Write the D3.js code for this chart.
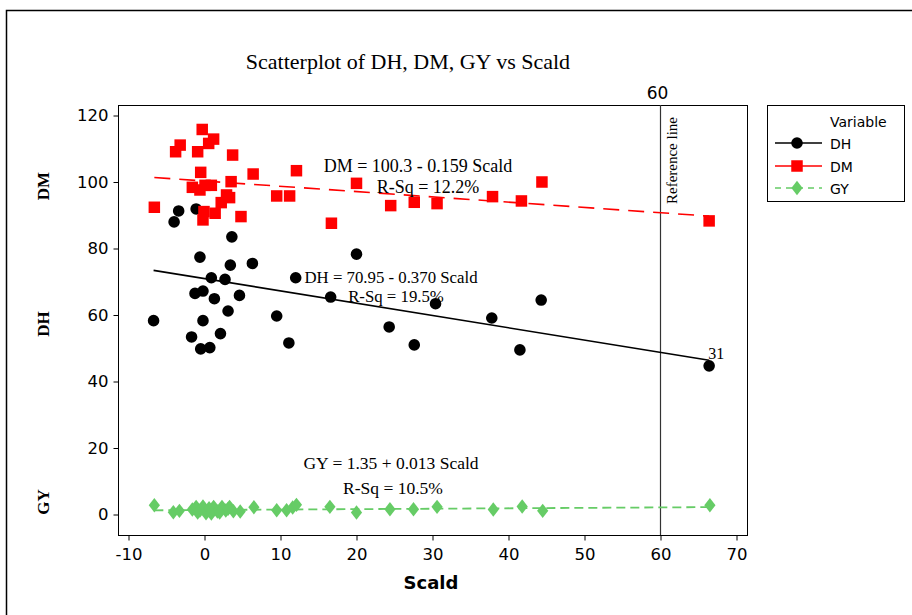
<!DOCTYPE html>
<html><head><meta charset="utf-8">
<script src="https://cdn.jsdelivr.net/npm/d3@7"></script>
<style>
html,body{margin:0;padding:0;background:#fff;}
svg{display:block;}
</style></head>
<body>
<script>
// ---- data ----
const xTicks = [-10, 0, 10, 20, 30, 40, 50, 60, 70];
const yTicks = [0, 20, 40, 60, 80, 100, 120];

const scaldDH = [-6.7,-4.0,-3.4,-1.1,3.6,-0.6,3.4,6.3,0.9,2.7,-1.25,-0.2,1.3,4.6,3.1,-0.2,9.5,-1.7,2.1,-0.5,0.7,11.1,12.0,16.6,20.0,24.3,27.6,30.4,37.8,41.5,44.3,66.4];
const valuesDH = [58.3,88.0,91.3,91.9,83.5,77.4,75.0,75.5,71.2,70.7,66.5,67.2,64.9,65.9,61.2,58.3,59.7,53.4,54.4,49.8,50.2,51.6,71.2,65.4,78.3,56.4,51.0,63.4,59.1,49.5,64.5,44.7];

const scaldDM = [-0.3,1.2,0.55,-3.2,-3.8,-0.9,3.7,-0.5,6.4,-1.6,-0.6,0.07,0.9,3.5,2.9,3.3,2.2,9.5,-6.6,-0.07,1.4,-0.2,4.8,11.2,12.1,16.7,20.0,24.5,27.6,30.6,37.9,41.7,44.4,66.4];
const valuesDM = [115.8,112.9,111.6,111.1,109.1,109.1,108.1,102.9,102.4,98.4,97.6,99.0,99.0,100.1,96.1,95.3,93.8,95.8,92.4,91.1,90.6,88.6,89.6,95.8,103.4,87.6,99.6,92.9,93.9,93.5,95.6,94.3,100.0,88.3];

const scaldGY = [-6.6,-4.1,-3.3,-1.6,-1.1,-0.6,-0.2,0.2,0.6,1.2,1.7,2.3,2.8,3.3,3.8,4.7,6.5,9.5,10.8,11.6,12.1,16.5,20.0,24.4,27.5,30.6,38.0,41.8,44.5,66.5,-0.9,0.9,2.0,3.1];
const valuesGY = [2.8,0.7,1.1,1.5,2.3,1.2,2.4,0.4,1.9,2.3,0.9,2.3,1.2,2.3,1.0,0.9,2.2,1.3,1.3,2.1,2.9,2.3,0.6,1.6,1.6,2.3,1.5,2.4,1.1,2.8,0.6,0.3,0.6,1.7];

const seriesNames = ["DH", "DM", "GY"];
const fitDH = {a: 70.95, b: -0.370, eq: "DH = 70.95 - 0.370 Scald", rsq: "R-Sq = 19.5%"};
const fitDM = {a: 100.3, b: -0.159, eq: "DM = 100.3 - 0.159 Scald", rsq: "R-Sq = 12.2%"};
const fitGY = {a: 1.35, b: 0.013, eq: "GY = 1.35 + 0.013 Scald", rsq: "R-Sq = 10.5%"};
const refLineX = 60;
const labelledPoint = {x: 66.4, y: 44.7, text: "31"};

// ---- drawing ----
const W = 912, H = 615;
const svg = d3.select("body").append("svg").attr("width", W).attr("height", H);

const plot = {left: 118, right: 747, top: 105, bottom: 535};
const x = d3.scaleLinear().domain([-10, 70]).range([128.5, 736.5]);
const y = d3.scaleLinear().domain([0, 120]).range([514.5, 115.5]);

const sans = "'DejaVu Sans', Verdana, sans-serif";
const serif = "'Liberation Serif', 'Times New Roman', serif";
const RED = "#ff0000", GREEN = "#66cc66", BLACK = "#000";

// outer frame
svg.append("rect").attr("x", 6.5).attr("y", 10.5).attr("width", W + 10).attr("height", H + 10)
  .attr("fill", "none").attr("stroke", "#000").attr("stroke-width", 1.5);

// title
svg.append("text").attr("x", 408).attr("y", 69).attr("text-anchor", "middle")
  .attr("font-family", serif).attr("font-size", 22).text("Scatterplot of DH, DM, GY vs Scald");

// plot frame
svg.append("rect").attr("x", plot.left + 0.5).attr("y", plot.top + 0.5)
  .attr("width", plot.right - plot.left).attr("height", plot.bottom - plot.top)
  .attr("fill", "none").attr("stroke", "#000").attr("stroke-width", 1);

// axes
const xAxis = d3.axisBottom(x).tickValues(xTicks).tickSize(5).tickSizeOuter(0).tickFormat(d => String(d));
const gx = svg.append("g").attr("transform", `translate(0,${plot.bottom + 0.5})`).call(xAxis);
gx.select(".domain").remove();
gx.selectAll("text").attr("font-family", sans).attr("font-size", 16.5).attr("dy", "1.0em").attr("fill", "#000");

const yAxis = d3.axisLeft(y).tickValues(yTicks).tickSize(5).tickSizeOuter(0).tickPadding(5).tickFormat(d => String(d));
const gy = svg.append("g").attr("transform", `translate(${plot.left + 0.5},0)`).call(yAxis);
gy.select(".domain").remove();
gy.selectAll("text").attr("font-family", sans).attr("font-size", 16.5).attr("fill", "#000");

// axis titles
svg.append("text").attr("x", 431).attr("y", 589).attr("text-anchor", "middle")
  .attr("font-family", sans).attr("font-weight", "bold").attr("font-size", 18).text("Scald");
const yLabels = [{t: "DM", cy: 186}, {t: "DH", cy: 324}, {t: "GY", cy: 502}];
yLabels.forEach(l => {
  svg.append("text").attr("transform", `translate(49,${l.cy}) rotate(-90)`)
    .attr("text-anchor", "middle").attr("font-family", serif).attr("font-weight", "bold")
    .attr("font-size", 17).text(l.t);
});

// reference line
svg.append("line").attr("x1", x(refLineX)).attr("x2", x(refLineX))
  .attr("y1", plot.top).attr("y2", plot.bottom).attr("stroke", "#333").attr("stroke-width", 1.2);
svg.append("text").attr("x", x(refLineX) - 3).attr("y", 99).attr("text-anchor", "middle")
  .attr("font-family", sans).attr("font-size", 17).text(refLineX);
svg.append("text").attr("transform", `translate(${x(refLineX) + 16},117) rotate(-90)`)
  .attr("text-anchor", "end").attr("font-family", serif).attr("font-size", 15).text("Reference line");

// regression lines
function fitLine(fit, xs, color, dash, width) {
  const x0 = d3.min(xs), x1 = d3.max(xs);
  svg.append("line").attr("x1", x(x0)).attr("y1", y(fit.a + fit.b * x0))
    .attr("x2", x(x1)).attr("y2", y(fit.a + fit.b * x1))
    .attr("stroke", color).attr("stroke-width", width).attr("stroke-dasharray", dash);
}
fitLine(fitDH, scaldDH, BLACK, null, 1.6);
fitLine(fitDM, scaldDM, RED, "16,9", 1.6);
fitLine(fitGY, scaldGY, GREEN, "9,5", 1.8);

// markers
const sym = {
  DH: d3.symbol().type(d3.symbolCircle).size(Math.PI * 5.8 * 5.8),
  DM: d3.symbol().type(d3.symbolSquare).size(11.5 * 11.5),
  GY: d3.symbol().type(d3.symbolDiamond).size(60)
};
const colors = {DH: BLACK, DM: RED, GY: GREEN};

function drawPoints(name, xs, ys) {
  svg.append("g").selectAll("path").data(xs.map((v, i) => [v, ys[i]])).join("path")
    .attr("transform", d => `translate(${x(d[0])},${y(d[1])})` + (name === "GY" ? " scale(1.35,1)" : ""))
    .attr("d", sym[name]).attr("fill", colors[name]);
}
drawPoints("GY", scaldGY, valuesGY);
drawPoints("DH", scaldDH, valuesDH);
drawPoints("DM", scaldDM, valuesDM);

// point label
svg.append("text").attr("x", x(labelledPoint.x) + 7).attr("y", y(labelledPoint.y) - 7)
  .attr("text-anchor", "middle").attr("font-family", serif).attr("font-size", 16).text(labelledPoint.text);

// equation annotations
const ann = [
  {t: fitDM.eq, cx: 418, by: 172, fs: 18}, {t: fitDM.rsq, cx: 428, by: 193, fs: 18},
  {t: fitDH.eq, cx: 391, by: 283, fs: 16.8}, {t: fitDH.rsq, cx: 396, by: 302, fs: 16.8},
  {t: fitGY.eq, cx: 391, by: 469, fs: 17.5}, {t: fitGY.rsq, cx: 393, by: 494, fs: 17.5}
];
ann.forEach(a => svg.append("text").attr("x", a.cx).attr("y", a.by).attr("text-anchor", "middle")
  .attr("font-family", serif).attr("font-size", a.fs).text(a.t));

// legend
const lg = svg.append("g");
lg.append("rect").attr("x", 767.5).attr("y", 105.5).attr("width", 137).attr("height", 96)
  .attr("fill", "none").attr("stroke", "#000").attr("stroke-width", 1);
lg.append("text").attr("x", 830).attr("y", 127).attr("font-family", sans).attr("font-size", 14).text("Variable");
const rowY = {DH: 143, DM: 166, GY: 188};
const lineDash = {DH: null, DM: null, GY: "6,5"};
seriesNames.forEach(n => {
  lg.append("line").attr("x1", 775).attr("x2", 822).attr("y1", rowY[n]).attr("y2", rowY[n])
    .attr("stroke", colors[n]).attr("stroke-width", 1.4).attr("stroke-dasharray", lineDash[n]);
  lg.append("path").attr("transform", `translate(797,${rowY[n]})` + (n === "GY" ? " scale(1.35,1)" : ""))
    .attr("d", sym[n]).attr("fill", colors[n]);
  lg.append("text").attr("x", 830).attr("y", rowY[n] + 5.5).attr("font-family", sans).attr("font-size", 14).text(n);
});
</script>
</body></html>
